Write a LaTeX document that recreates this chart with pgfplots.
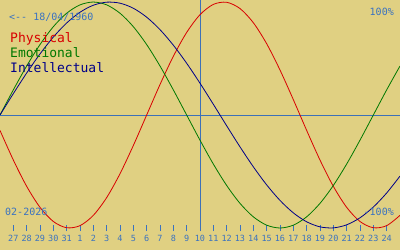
\documentclass[border=0pt]{standalone}
\usepackage{fontspec}
\setmainfont{DejaVu Sans Mono}
\usepackage{pgfplots}
\pgfplotsset{compat=1.18}
\definecolor{bg}{HTML}{E0D082}
\definecolor{tblue}{HTML}{3A72C0}
\definecolor{lblue}{HTML}{3C70B8}
\definecolor{pred}{HTML}{D80000}
\definecolor{egreen}{HTML}{007800}
\definecolor{inavy}{HTML}{000088}
\begin{document}
\begin{tikzpicture}
\fill[bg] (0,-19pt) rectangle (400pt,231pt);
\begin{axis}[
  at={(0,0)}, anchor=south west,
  scale only axis, width=400pt, height=231pt,
  xmin=-5, xmax=25, ymin=-1.0265, ymax=1.018,
  axis line style={draw=none},
  xtick={-4,...,24},
  xticklabels={27,28,29,30,31,1,2,3,4,5,6,7,8,9,10,11,12,13,14,15,16,17,18,19,20,21,22,23,24},
  xtick pos=bottom, tick align=inside,
  major tick length=6pt,
  every tick/.style={tblue, line width=0.8pt},
  xticklabel style={font=\fontsize{8.5}{10}\selectfont, text=tblue, yshift=-1pt},
  /pgf/number format/assume math mode=true,
  ytick=\empty,
  clip=true,
]
\addplot[lblue, line width=0.9pt] coordinates {(-5,0) (25,0)};
\addplot[lblue, line width=0.9pt] coordinates {(10,-1.0265) (10,1.018)};
% Physical (23 days)
\addplot[pred, line width=0.8pt, smooth] coordinates {
(-5,-0.1362) (-4,-0.3984) (-3,-0.6311) (-2,-0.8170) (-1,-0.9423) (0,-0.9977)
(1,-0.9791) (2,-0.8879) (3,-0.7308) (4,-0.5196) (5,-0.2698) (6,0) (7,0.2698)
(8,0.5196) (9,0.7308) (10,0.8879) (11,0.9791) (12,0.9977) (13,0.9423) (14,0.8170)
(15,0.6311) (16,0.3984) (17,0.1362) (18,-0.1362) (19,-0.3984) (20,-0.6311)
(21,-0.8170) (22,-0.9423) (23,-0.9977) (24,-0.9791) (25,-0.8879)};
% Emotional (28 days)
\addplot[egreen, line width=0.8pt, smooth] coordinates {
(-5,0) (-4,0.2225) (-3,0.4339) (-2,0.6235) (-1,0.7818) (0,0.9010) (1,0.9749)
(2,1) (3,0.9749) (4,0.9010) (5,0.7818) (6,0.6235) (7,0.4339) (8,0.2225) (9,0)
(10,-0.2225) (11,-0.4339) (12,-0.6235) (13,-0.7818) (14,-0.9010) (15,-0.9749)
(16,-1) (17,-0.9749) (18,-0.9010) (19,-0.7818) (20,-0.6235) (21,-0.4339)
(22,-0.2225) (23,0) (24,0.2225) (25,0.4339)};
% Intellectual (33 days)
\addplot[inavy, line width=0.8pt, smooth] coordinates {
(-5,0) (-4,0.1893) (-3,0.3717) (-2,0.5406) (-1,0.6901) (0,0.8146) (1,0.9096)
(2,0.9718) (3,0.9989) (4,0.9898) (5,0.9450) (6,0.8660) (7,0.7557) (8,0.6182)
(9,0.4582) (10,0.2817) (11,0.0951) (12,-0.0951) (13,-0.2817) (14,-0.4582)
(15,-0.6182) (16,-0.7557) (17,-0.8660) (18,-0.9450) (19,-0.9898) (20,-0.9989)
(21,-0.9718) (22,-0.9096) (23,-0.8146) (24,-0.6901) (25,-0.5406)};
\end{axis}
\node[anchor=west, text=tblue, font=\fontsize{10}{12}\selectfont, inner sep=0pt] at (9pt,214pt) {<-{}- 18/04/1960};
\node[anchor=base west, text=pred, font=\fontsize{13}{15}\selectfont, inner sep=0pt] at (10pt,188.5pt) {Physical};
\node[anchor=base west, text=egreen, font=\fontsize{13}{15}\selectfont, inner sep=0pt] at (10pt,173.5pt) {Emotional};
\node[anchor=base west, text=inavy, font=\fontsize{13}{15}\selectfont, inner sep=0pt] at (10pt,158.5pt) {Intellectual};
\node[anchor=east, text=tblue, font=\fontsize{10}{12}\selectfont, inner sep=0pt] at (394pt,219pt) {100\%};
\node[anchor=west, text=tblue, font=\fontsize{10}{12}\selectfont, inner sep=0pt] at (5pt,19.5pt) {02-2026};
\node[anchor=east, text=tblue, font=\fontsize{10}{12}\selectfont, inner sep=0pt] at (394pt,19.5pt) {-100\%};
\end{tikzpicture}
\end{document}
